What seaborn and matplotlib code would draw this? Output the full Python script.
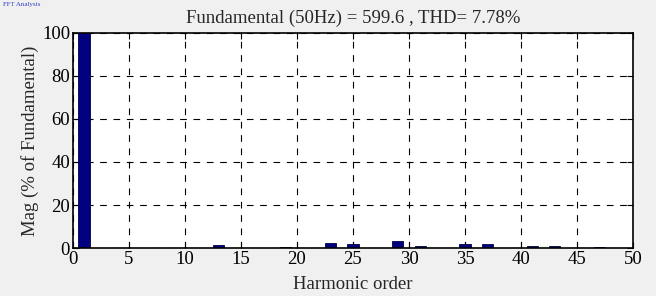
import numpy as np
import pandas as pd
import matplotlib
matplotlib.use("Agg")
import matplotlib.pyplot as plt
import seaborn as sns

# harmonic orders and magnitudes (% of fundamental)
orders = [1, 13, 19, 23, 25, 29, 31, 35, 37, 41, 43, 47]
mags = [100, 1.2, 0.6, 2.3, 1.9, 3.1, 0.8, 1.7, 2.1, 0.8, 0.8, 0.5]
title = "Fundamental (50Hz) = 599.6 , THD= 7.78%"

# full spectrum 0..50, zero where nothing is visible
h = np.arange(0, 51)
m = np.zeros(len(h))
for o, v in zip(orders, mags):
    m[o] = v
df = pd.DataFrame({"order": h, "mag": m})

sns.set_style("white")
plt.rcParams["font.family"] = ["Liberation Serif", "DejaVu Serif"]

fs = 13.5
fig = plt.figure(figsize=(6.56, 2.96), dpi=100, facecolor="#f0f0f0")
ax = fig.add_axes([0.111, 0.162, 0.854, 0.727])
sns.barplot(data=df, x="order", y="mag", native_scale=True, width=1.0,
            color="#000080", edgecolor="#000040", linewidth=0.6,
            saturation=1, ax=ax)

ax.set_xlim(0, 50)
ax.set_ylim(0, 100)
ax.set_xticks(range(0, 51, 5))
ax.set_yticks(range(0, 101, 20))
ax.grid(True, color="black", linestyle=(0, (6, 6)), linewidth=0.8)
ax.set_axisbelow(True)
ax.tick_params(direction="in", length=4, labelsize=fs, colors="black",
               top=True, right=True, bottom=True, left=True, pad=2)
for s in ax.spines.values():
    s.set_visible(True)
    s.set_color("black")
    s.set_linewidth(1.2)
ax.set_xlabel("Harmonic order", fontsize=fs, labelpad=6)
ax.set_ylabel("Mag (% of Fundamental)", fontsize=fs, labelpad=2)
ax.set_title(title, fontsize=fs, pad=7)

fig.text(0.005, 0.985, "FFT Analysis", color="#3040c0", fontsize=5, va="center")

fig.savefig("out.png", dpi=100, facecolor=fig.get_facecolor())
